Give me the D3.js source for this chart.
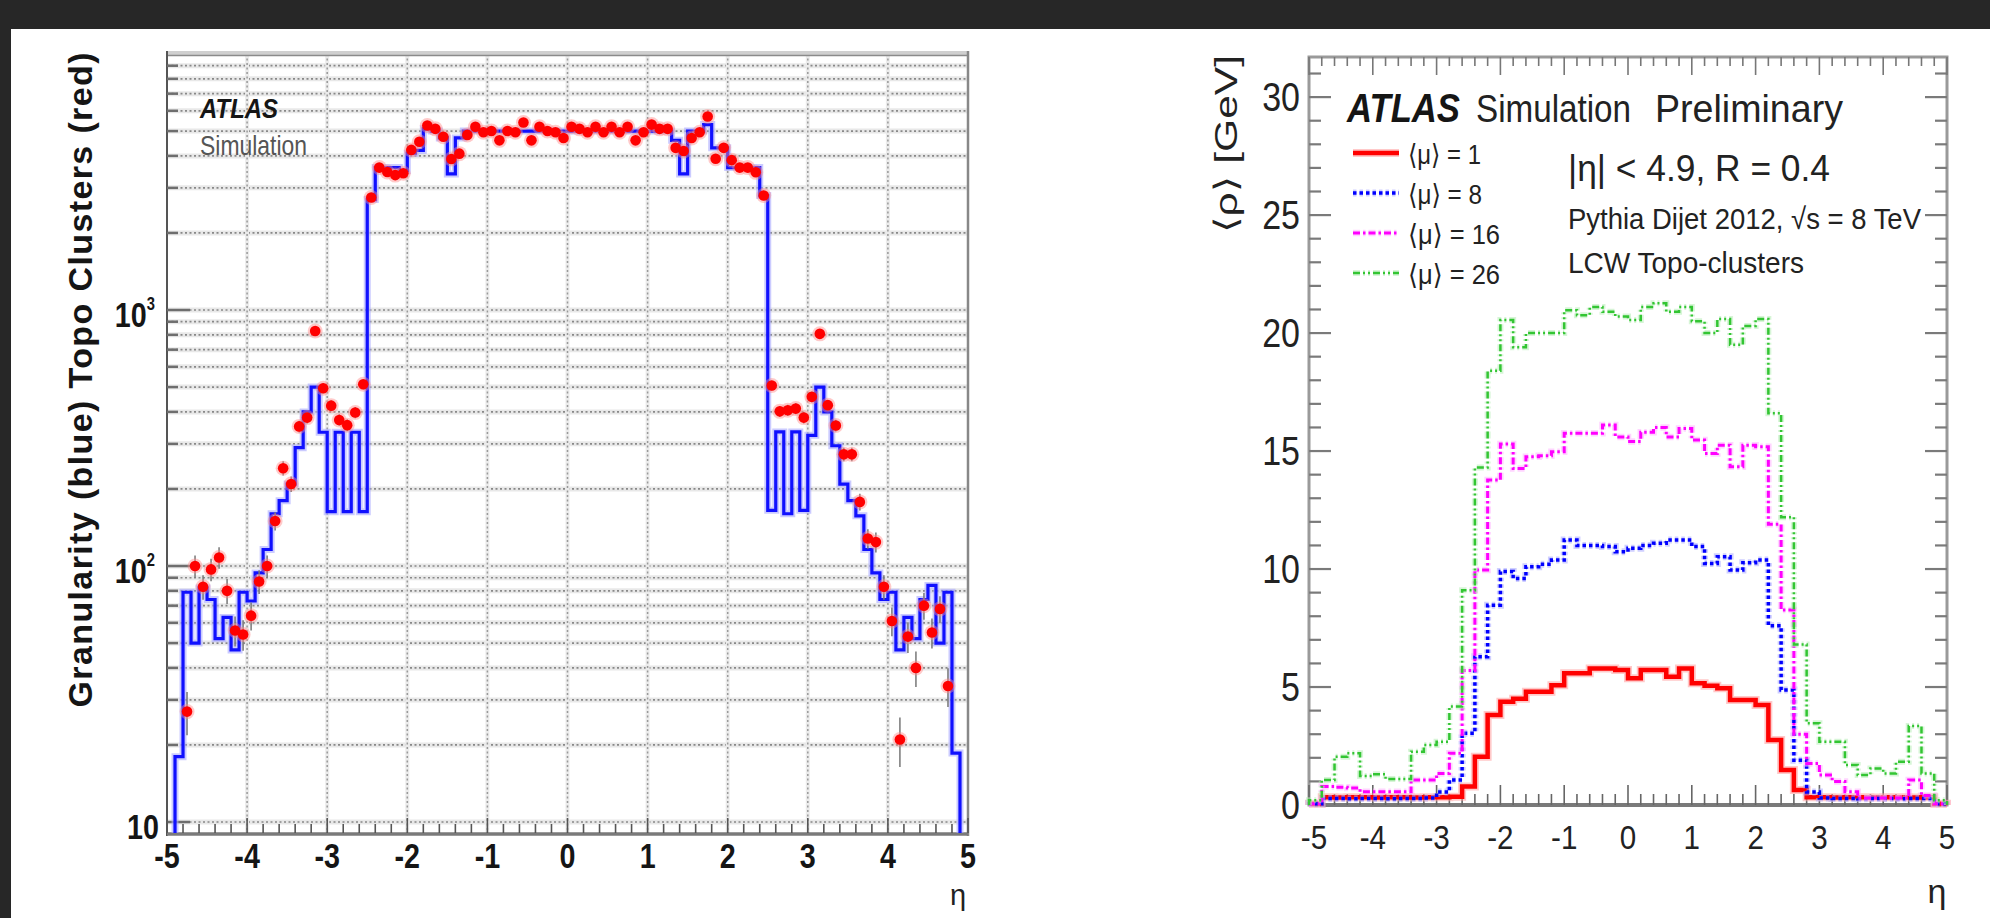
<!DOCTYPE html>
<html>
<head>
<meta charset="utf-8">
<script src="https://cdn.jsdelivr.net/npm/d3@7"></script>
<style>
  body { margin: 0; background: #fff; }
  svg { display: block; }
</style>
</head>
<body>
<svg id="chart"></svg>
<script>
// ---------- data: left panel (granularity vs topo clusters, log scale) ----------
const granBinStart = -4.9, granBinWidth = 0.1;
// blue histogram, 98 bins from eta -4.9 to 4.9
const granularity = [
  18, 79, 50, 82, 74, 52, 63, 47, 79, 73,
  94, 116, 160, 180, 209, 290, 400, 500, 333, 163,
  333, 163, 333, 163, 2700, 3600, 3600, 3600, 3500, 4100,
  4200, 5100, 5000, 4700, 3400, 4700,
  5000, 5000, 5000, 5000, 5000, 5000, 5000, 5000, 5000, 5000, 5000, 5000, 5000,
  5000, 5000, 5000, 5000, 5000, 5000, 5000, 5000, 5000, 5000, 5000, 5000, 5000,
  4600, 3400, 5000, 5000, 5300, 4300, 4300, 3600, 3600, 3600,
  3600, 2800, 165, 334, 160, 334, 165, 324, 500, 400,
  295, 209, 180, 157, 116, 94, 74, 79, 47, 63,
  52, 74, 84, 50, 79, 18.6
];
// red points, bin centres from eta -4.75 to 4.75
const clusterStart = -4.75, clusterStep = 0.1;
const topoClusters = [
  27, 100, 83, 97, 108, 80, 56, 54, 64, 87,
  100, 150, 241, 209, 351, 380, 828, 495, 423, 372,
  355, 398, 513, 2750, 3600, 3460, 3365, 3420, 4220, 4540,
  5260, 5100, 4750, 3890, 4080, 4830, 5200, 4950, 5000, 4600,
  5000, 4950, 5400, 4600, 5200, 5000, 4950, 4700, 5200, 5100,
  4950, 5200, 4950, 5200, 4950, 5200, 4600, 4950, 5300, 5100,
  5100, 4300, 4180, 4700, 4950, 5700, 3900, 4300, 3850, 3600,
  3600, 3450, 2800, 507, 402, 406, 412, 380, 458, 807,
  425, 354, 273, 273, 178, 128, 124, 83, 61, 21,
  53, 40, 70, 55, 68, 34
];

// ---------- data: right panel (<rho> vs eta) ----------
const rhoBinStart = -5, rhoBinWidth = 0.2;
const rhoMu1 = [
  0.05, 0.33, 0.32, 0.33, 0.33, 0.32, 0.33, 0.33, 0.32, 0.33,
  0.33, 0.35, 0.78, 2.05, 3.81, 4.38, 4.5, 4.8, 4.8, 5.08,
  5.58, 5.58, 5.79, 5.79, 5.72, 5.37, 5.72, 5.72, 5.44, 5.79,
  5.16, 5.05, 4.95, 4.45, 4.45, 4.24, 2.75, 1.48, 0.64, 0.33,
  0.33, 0.32, 0.33, 0.33, 0.32, 0.33, 0.33, 0.32, 0.33, 0.05
];
const rhoMu8 = [
  0.05, 0.28, 0.28, 0.27, 0.28, 0.28, 0.27, 0.28, 0.28, 0.3,
  0.55, 1.06, 3.04, 6.28, 8.47, 9.9, 9.6, 10.1, 10.2, 10.38,
  11.23, 11.0, 11.0, 10.95, 10.73, 10.88, 11.0, 11.09, 11.23, 11.23,
  10.95, 10.24, 10.52, 9.96, 10.27, 10.38, 7.6, 4.87, 1.9, 0.55,
  0.3, 0.28, 0.28, 0.27, 0.28, 0.28, 0.27, 0.28, 0.28, 0.05
];
const rhoMu16 = [
  0.05, 0.78, 0.75, 0.72, 0.56, 0.56, 0.56, 0.56, 1.06, 1.06,
  1.34, 2.19, 5.7, 9.96, 13.77, 15.3, 14.26, 14.76, 14.8, 14.97,
  15.75, 15.75, 15.75, 16.1, 15.6, 15.4, 15.8, 16.0, 15.6, 15.96,
  15.47, 14.9, 15.25, 14.33, 15.25, 15.18, 11.9, 8.26, 3.0, 1.76,
  1.27, 1.0, 0.56, 0.3, 0.3, 0.3, 0.3, 1.06, 0.4, 0.05
];
const rhoMu26 = [
  0.2, 1.06, 2.05, 2.19, 1.23, 1.3, 1.1, 1.1, 2.26, 2.54,
  2.68, 4.17, 9.1, 14.3, 18.4, 20.55, 19.4, 20.0, 20.0, 20.0,
  20.97, 20.76, 21.1, 20.9, 20.7, 20.55, 21.1, 21.26, 20.9, 21.1,
  20.5, 20.0, 20.6, 19.5, 20.3, 20.6, 16.6, 12.2, 6.8, 3.46,
  2.68, 2.68, 1.69, 1.27, 1.55, 1.34, 1.83, 3.35, 1.34, 0.2
];
const legendLabels = ["⟨μ⟩ = 1", "⟨μ⟩ = 8", "⟨μ⟩ = 16", "⟨μ⟩ = 26"];
const etaTicks = [-5, -4, -3, -2, -1, 0, 1, 2, 3, 4, 5];
const rhoTicks = [0, 5, 10, 15, 20, 25, 30];

// ---------- setup ----------
const W = 1990, H = 918;
const svg = d3.select("#chart")
    .attr("width", W)
    .attr("height", H)
    .attr("font-family", "'Liberation Sans', Arial, 'DejaVu Sans', sans-serif");

svg.append("rect").attr("width", W).attr("height", H).attr("fill", "#fff");
svg.append("rect").attr("width", W).attr("height", 29).attr("fill", "#272727");
svg.append("rect").attr("width", 11).attr("height", H).attr("fill", "#272727");

// small text helper
function txt(g, s, x, y, o = {}) {
    const t = g.append("text")
        .attr("font-size", o.size || 20)
        .attr("font-weight", o.bold ? "bold" : null)
        .attr("font-style", o.italic ? "italic" : null)
        .attr("text-anchor", o.anchor || "start")
        .attr("fill", o.fill || "#151515")
        .text(s);
    if (o.sx) {
        t.attr("transform", `translate(${x},${y}) scale(${o.sx},1)`);
    } else {
        t.attr("x", x).attr("y", y);
        if (o.rot) t.attr("transform", `rotate(${o.rot},${x},${y})`);
    }
    if (o.len) t.attr("textLength", o.len).attr("lengthAdjust", o.adjust || "spacingAndGlyphs");
    return t;
}

function stepPoints(x, y, start, width, vals, base) {
    const pts = [[x(start), base]];
    vals.forEach((v, i) => {
        pts.push([x(start + i * width), y(v)], [x(start + (i + 1) * width), y(v)]);
    });
    pts.push([x(start + vals.length * width), base]);
    return pts;
}
const line = d3.line();

// =================== LEFT PANEL ===================
const gL = svg.append("g");
const xL = d3.scaleLinear().domain([-5, 5]).range([167, 968]);
const yL = d3.scaleLog().domain([9.06, 1e4]).range([833, 54]);
const logTicks = yL.ticks().filter(v => v >= 10 && v < 1e4);
const isDecade = v => Math.abs(Math.log10(v) - Math.round(Math.log10(v))) < 1e-6;

// grid: horizontal
logTicks.forEach(v => {
    gL.append("line").attr("x1", xL(-5)).attr("x2", xL(5)).attr("y1", yL(v)).attr("y2", yL(v))
        .attr("stroke", "#e8e8e8").attr("stroke-width", 5);
    gL.append("line").attr("x1", xL(-5)).attr("x2", xL(5)).attr("y1", yL(v)).attr("y2", yL(v))
        .attr("stroke", "#888").attr("stroke-width", 1.7).attr("stroke-dasharray", "2,2.5");
});
// grid: vertical
d3.range(-4, 5).forEach(e => {
    gL.append("line").attr("x1", xL(e)).attr("x2", xL(e)).attr("y1", 54).attr("y2", 833)
        .attr("stroke", "#ebebeb").attr("stroke-width", 4);
    gL.append("line").attr("x1", xL(e)).attr("x2", xL(e)).attr("y1", 54).attr("y2", 833)
        .attr("stroke", "#999").attr("stroke-width", 1.5).attr("stroke-dasharray", "2,2.5");
});

// frame
gL.append("rect").attr("x", xL(-5)).attr("y", 51).attr("width", xL(5) - xL(-5)).attr("height", 5)
    .attr("fill", "#cfcfcf");
gL.append("line").attr("x1", xL(-5)).attr("x2", xL(5)).attr("y1", 55.5).attr("y2", 55.5)
    .attr("stroke", "#8a8a8a").attr("stroke-width", 1.5);
gL.append("line").attr("x1", xL(-5)).attr("x2", xL(-5)).attr("y1", 51).attr("y2", 836)
    .attr("stroke", "#555").attr("stroke-width", 2);
gL.append("line").attr("x1", xL(5)).attr("x2", xL(5)).attr("y1", 51).attr("y2", 836)
    .attr("stroke", "#888").attr("stroke-width", 2.5);
gL.append("line").attr("x1", xL(-5)).attr("x2", xL(5)).attr("y1", 834).attr("y2", 834)
    .attr("stroke", "#7a7a7a").attr("stroke-width", 3.5);

// y ticks
logTicks.forEach(v => {
    const len = isDecade(v) ? 23 : 11;
    gL.append("line").attr("x1", xL(-5)).attr("x2", xL(-5) + len).attr("y1", yL(v)).attr("y2", yL(v))
        .attr("stroke", "#6e6e6e").attr("stroke-width", 2.5);
});
// x ticks
d3.range(0, 51).map(i => -5 + i * 0.2).forEach(e => {
    const major = Math.abs(e - Math.round(e)) < 1e-6;
    gL.append("line").attr("x1", xL(e)).attr("x2", xL(e)).attr("y1", 833).attr("y2", major ? 818 : 824)
        .attr("stroke", "#555").attr("stroke-width", 1.6);
});

// blue histogram
const granPts = stepPoints(xL, yL, granBinStart, granBinWidth, granularity, 833);
gL.append("path").attr("d", line(granPts)).attr("fill", "none")
    .attr("stroke", "#a9a9ff").attr("stroke-opacity", 0.6).attr("stroke-width", 7);
gL.append("path").attr("d", line(granPts)).attr("fill", "none")
    .attr("stroke", "#1010ff").attr("stroke-width", 3.2);

// red points with poisson error bars
const dots = topoClusters.map((v, i) => ({ eta: clusterStart + i * clusterStep, v }));
gL.selectAll(".err").data(dots).join("line")
    .attr("x1", d => xL(d.eta)).attr("x2", d => xL(d.eta))
    .attr("y1", d => yL(d.v + Math.sqrt(d.v)))
    .attr("y2", d => yL(Math.max(d.v - Math.sqrt(d.v), 9.1)))
    .attr("stroke", "#777").attr("stroke-width", 1.5);
gL.selectAll(".halo").data(dots).join("circle")
    .attr("cx", d => xL(d.eta)).attr("cy", d => yL(d.v)).attr("r", 7.5)
    .attr("fill", "#ff8a8a").attr("fill-opacity", 0.45);
gL.selectAll(".dot").data(dots).join("circle")
    .attr("cx", d => xL(d.eta)).attr("cy", d => yL(d.v)).attr("r", 5.3)
    .attr("fill", "#ff0000");

// left texts
txt(gL, "ATLAS", 200, 118, { size: 28, bold: true, italic: true, len: 78 });
txt(gL, "Simulation", 200, 155, { size: 28, fill: "#555", len: 107 });
txt(gL, "Granularity (blue) Topo Clusters (red)", 92, 380,
    { size: 34, bold: true, anchor: "middle", rot: -90, len: 655, adjust: "spacing" });
etaTicks.forEach(e => txt(gL, String(e), xL(e), 868, { size: 35, bold: true, anchor: "middle", sx: 0.82 }));
txt(gL, "10", 159, yL(10) + 17, { size: 35, bold: true, anchor: "end", sx: 0.82 });
[100, 1000].forEach((v, i) => {
    const t = txt(gL, "10", 155, yL(v) + 17, { size: 35, bold: true, anchor: "end", sx: 0.82 });
    t.append("tspan").attr("font-size", 18).attr("dy", -17).text(i === 0 ? "2" : "3");
});
txt(gL, "η", 958, 905, { size: 29, anchor: "middle", fill: "#222" });

// =================== RIGHT PANEL ===================
const gR = svg.append("g");
const xR = d3.scaleLinear().domain([-5, 5]).range([1309, 1947]);
const yR = d3.scaleLinear().domain([0, 31.7]).range([805, 57]);

// frame
gR.append("rect").attr("x", xR(-5)).attr("y", yR(31.7)).attr("width", xR(5) - xR(-5))
    .attr("height", yR(0) - yR(31.7)).attr("fill", "none").attr("stroke", "#9a9a9a").attr("stroke-width", 3);
gR.append("line").attr("x1", xR(-5)).attr("x2", xR(5)).attr("y1", 805).attr("y2", 805)
    .attr("stroke", "#7a7a7a").attr("stroke-width", 4);

// y ticks (both sides)
d3.range(0, 32).forEach(v => {
    const len = v % 5 === 0 ? 22 : 12;
    gR.append("line").attr("x1", xR(-5)).attr("x2", xR(-5) + len).attr("y1", yR(v)).attr("y2", yR(v))
        .attr("stroke", "#7a7a7a").attr("stroke-width", 2.2);
    gR.append("line").attr("x1", xR(5)).attr("x2", xR(5) - len).attr("y1", yR(v)).attr("y2", yR(v))
        .attr("stroke", "#7a7a7a").attr("stroke-width", 2.2);
});
// x ticks (bottom and top)
d3.range(0, 51).map(i => -5 + i * 0.2).forEach(e => {
    const major = Math.abs(e - Math.round(e)) < 1e-6;
    gR.append("line").attr("x1", xR(e)).attr("x2", xR(e)).attr("y1", 805).attr("y2", major ? 785 : 794)
        .attr("stroke", "#666").attr("stroke-width", 1.6);
    gR.append("line").attr("x1", xR(e)).attr("x2", xR(e)).attr("y1", 57).attr("y2", major ? 75 : 66)
        .attr("stroke", "#777").attr("stroke-width", 1.6);
});

// histograms
const series = [
    { vals: rhoMu1, color: "#ff0000", halo: "#ff9c9c", w: 4.5, dash: null },
    { vals: rhoMu8, color: "#0000ff", halo: "#a8a8ff", w: 3.5, dash: "3.5,3" },
    { vals: rhoMu16, color: "#ff00ff", halo: "#ffb0ff", w: 3, dash: "7,3,2.5,3" },
    { vals: rhoMu26, color: "#33c533", halo: "#b6ecb6", w: 2.5, dash: "7,3,2,3,2,3" }
];
series.forEach(s => {
    const d = line(stepPoints(xR, yR, rhoBinStart, rhoBinWidth, s.vals, 805));
    gR.append("path").attr("d", d).attr("fill", "none").attr("stroke", s.halo)
        .attr("stroke-opacity", 0.55).attr("stroke-width", s.w + 3.5).attr("stroke-dasharray", s.dash);
    gR.append("path").attr("d", d).attr("fill", "none").attr("stroke", s.color)
        .attr("stroke-width", s.w).attr("stroke-dasharray", s.dash);
});

// legend
const legLen = [73, 74, 92, 92];
series.forEach((s, i) => {
    const y = 153 + i * 40;
    gR.append("line").attr("x1", 1353).attr("x2", 1399).attr("y1", y).attr("y2", y)
        .attr("stroke", s.halo).attr("stroke-opacity", 0.55).attr("stroke-width", s.w + 3.5)
        .attr("stroke-dasharray", s.dash);
    gR.append("line").attr("x1", 1353).attr("x2", 1399).attr("y1", y).attr("y2", y)
        .attr("stroke", s.color).attr("stroke-width", s.w).attr("stroke-dasharray", s.dash);
    txt(gR, legendLabels[i], 1408, y + 11, { size: 28, fill: "#222", len: legLen[i] });
});

// right texts
txt(gR, "ATLAS", 1347, 122, { size: 40, bold: true, italic: true, len: 113 });
txt(gR, "Simulation", 1476, 122, { size: 38, fill: "#222", len: 155 });
txt(gR, "Preliminary", 1655, 122, { size: 38, fill: "#222", len: 188 });
txt(gR, "|η| < 4.9, R = 0.4", 1568, 181, { size: 36, fill: "#222", len: 262 });
txt(gR, "Pythia Dijet 2012, √s = 8 TeV", 1568, 229, { size: 30, fill: "#222", len: 353 });
txt(gR, "LCW Topo-clusters", 1568, 273, { size: 30, fill: "#222", len: 236 });
txt(gR, "⟨ρ⟩ [GeV]", 1237, 144, { size: 32, fill: "#222", anchor: "middle", rot: -90, len: 178 });

rhoTicks.forEach(v => txt(gR, String(v), 1300, yR(v) + 14, { size: 40, anchor: "end", fill: "#222", sx: 0.85 }));
etaTicks.forEach(e => txt(gR, String(e), xR(e) + (e === -5 ? 5 : 0), 849,
    { size: 34, anchor: "middle", fill: "#222", sx: 0.87 }));
txt(gR, "η", 1937, 903, { size: 34, anchor: "middle", fill: "#222" });
</script>
</body>
</html>
